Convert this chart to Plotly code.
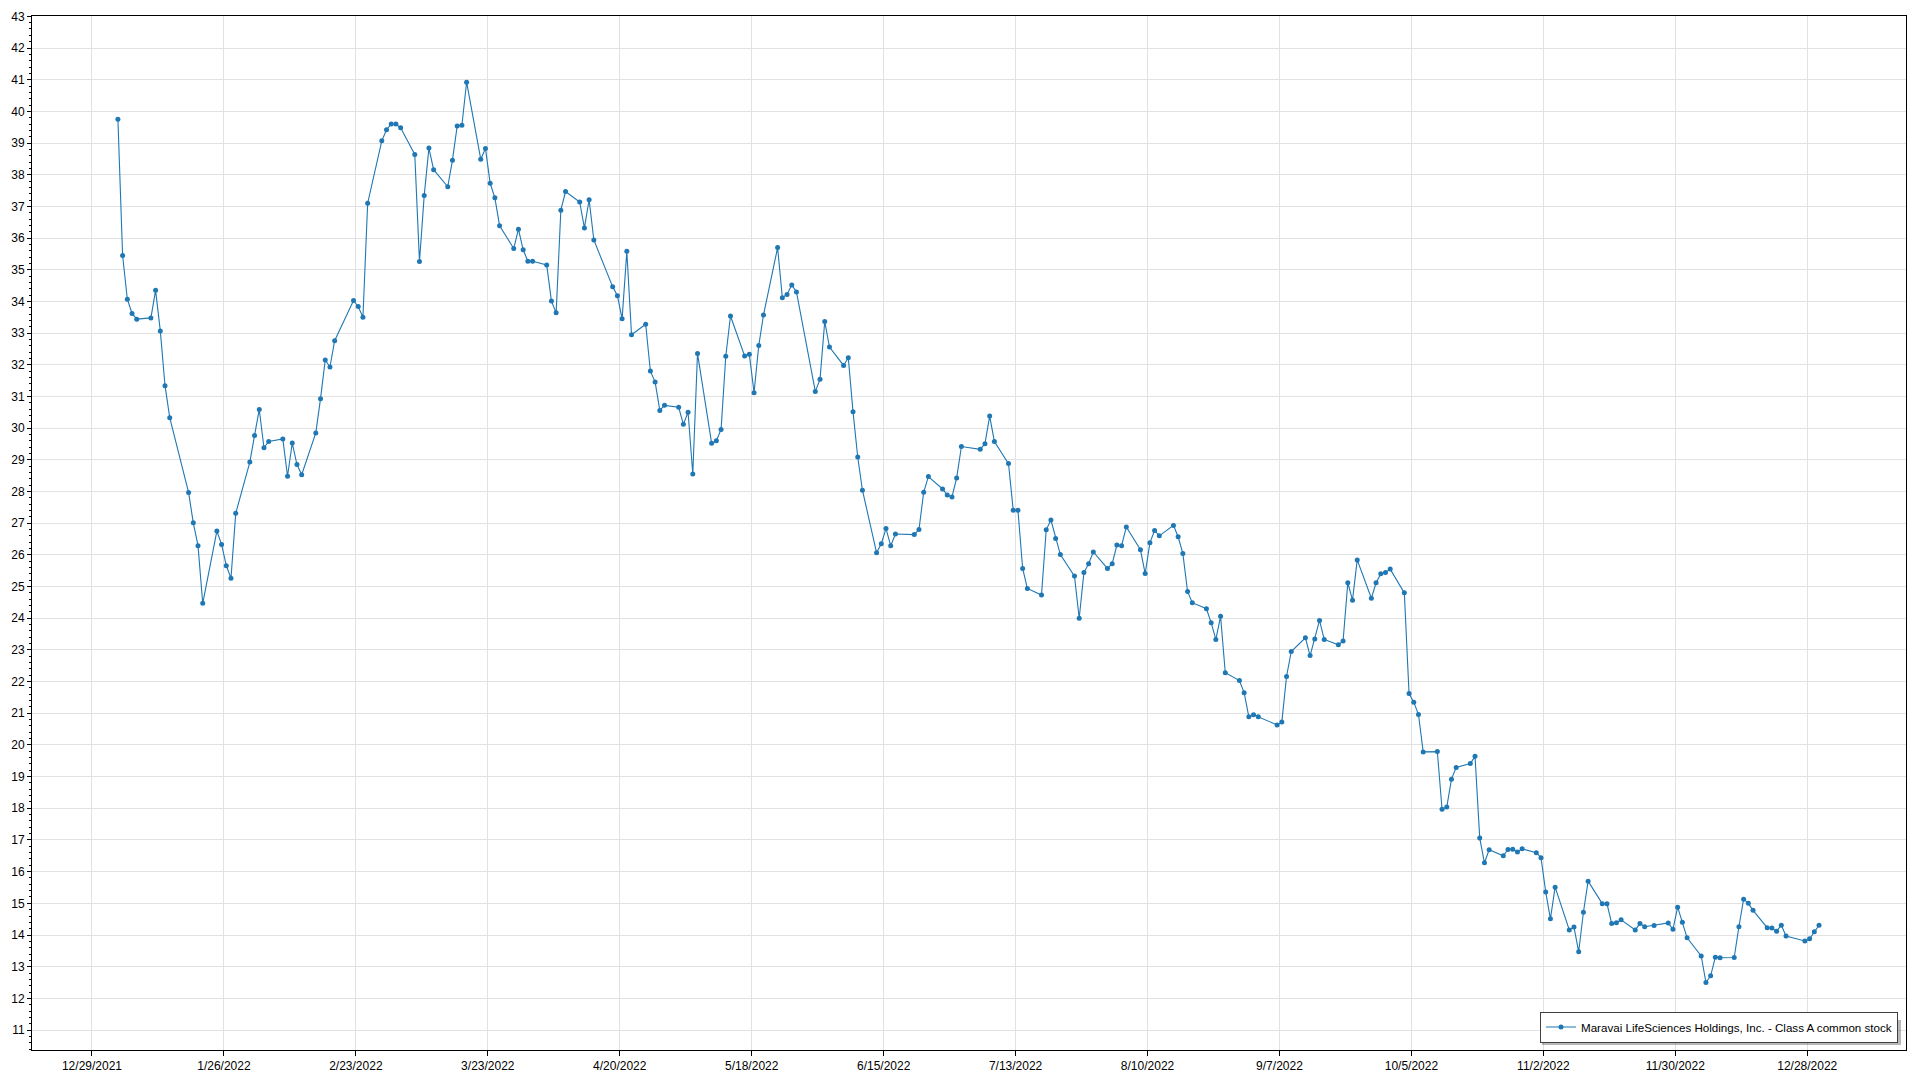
import pandas as pd
import plotly.graph_objects as go

# ---- data -------------------------------------------------------------
series_name = "Maravai LifeSciences Holdings, Inc. - Class A common stock"

market_holidays = ["2022-01-17", "2022-02-21", "2022-04-15", "2022-05-30", "2022-06-20",
                   "2022-07-04", "2022-09-05", "2022-11-24", "2022-12-26"]
trade_dates = [d for d in pd.bdate_range("2022-01-03", "2022-12-30")
               if d.strftime("%Y-%m-%d") not in market_holidays]

jan = [39.75, 35.45, 34.07, 33.62, 33.44, 33.48, 34.35, 33.07, 31.34, 30.33,
       27.97, 27.01, 26.29, 24.47, 26.75, 26.33, 25.66, 25.26, 27.31, 28.93]
feb = [29.77, 30.59, 29.38, 29.58, 29.66, 28.48, 29.53, 28.85, 28.53, 29.85,
       30.93, 32.15, 31.93, 32.76, 34.03, 33.84, 33.50, 37.10, 39.07]
mar = [39.42, 39.60, 39.60, 39.48, 38.64, 35.26, 37.34, 38.84, 38.16, 37.62,
       38.46, 39.54, 39.56, 40.92, 38.49, 38.83, 37.73, 37.27, 36.39, 35.67,
       36.28, 35.63, 35.27]
apr = [35.27, 35.15, 34.01, 33.64, 36.88, 37.47, 37.14, 36.32, 37.21, 35.94,
       34.46, 34.18, 33.45, 35.58, 32.95, 33.28, 31.80, 31.46, 30.56, 30.72]
may = [30.66, 30.12, 30.50, 28.55, 32.36, 29.52, 29.60, 29.96, 32.27, 33.54,
       32.28, 32.33, 31.12, 32.61, 33.57, 35.70, 34.12, 34.22, 34.52, 34.30, 31.16]
jun = [31.54, 33.37, 32.56, 31.98, 32.22, 30.52, 29.09, 28.04, 26.07, 26.35,
       26.83, 26.29, 26.66, 26.64, 26.80, 27.98, 28.47, 28.08, 27.89, 27.83, 28.43]
jul = [29.42, 29.33, 29.51, 30.38, 29.58, 28.88, 27.41, 27.41, 25.57, 24.94,
       24.73, 26.79, 27.10, 26.52, 26.01, 25.33, 24.00, 25.44, 25.72, 26.09]
aug = [25.57, 25.72, 26.31, 26.29, 26.88, 26.16, 25.41, 26.38, 26.77, 26.60,
       26.93, 26.57, 26.04, 24.84, 24.49, 24.30, 23.86, 23.33, 24.06, 22.28,
       22.03, 21.65, 20.89]
sep = [20.95, 20.89, 20.63, 20.72, 22.16, 22.95, 23.38, 22.82, 23.34, 23.93,
       23.33, 23.16, 23.28, 25.12, 24.57, 25.84, 24.63, 25.12, 25.40, 25.44, 25.55]
oct_ = [24.80, 21.62, 21.35, 20.96, 19.78, 19.79, 17.97, 18.04, 18.92, 19.29,
        19.41, 19.64, 17.06, 16.28, 16.69, 16.50, 16.70, 16.71, 16.62, 16.72, 16.60]
nov = [16.44, 15.36, 14.51, 15.51, 14.16, 14.25, 13.47, 14.72, 15.70, 14.99,
       14.99, 14.36, 14.39, 14.48, 14.16, 14.36, 14.26, 14.30, 14.38, 14.18, 14.88]
dec = [14.40, 13.91, 13.34, 12.50, 12.71, 13.30, 13.28, 13.29, 14.26, 15.13,
       15.00, 14.78, 14.23, 14.22, 14.12, 14.31, 13.97, 13.81, 13.88, 14.10, 14.31]

prices = jan + feb + mar + apr + may + jun + jul + aug + sep + oct_ + nov + dec
assert len(prices) == len(trade_dates)

# ---- figure -----------------------------------------------------------
FONT = "Liberation Sans, Arial, sans-serif"
BLUE = "rgb(31,119,180)"
GRID = "#e2e2e2"

W, H = 1920, 1080
ML, MR, MT, MB = 32, 14, 16, 30
PW, PH = W - ML - MR, H - MT - MB


def px_x(p):
    return (p - ML) / PW


def px_y(p):
    return (H - MB - p) / PH


x_vals = [d + pd.Timedelta(hours=12) for d in trade_dates]

fig = go.Figure()
fig.add_trace(go.Scatter(
    x=x_vals, y=prices, name=series_name, mode="lines+markers",
    line=dict(color=BLUE, width=1.1),
    marker=dict(color=BLUE, size=5, symbol="circle"),
    showlegend=True,
))

# legend drop shadow
fig.add_shape(type="rect", xref="paper", yref="paper",
              x0=px_x(1542), x1=px_x(1901), y0=px_y(1045), y1=px_y(1020),
              fillcolor="rgba(0,0,0,0.28)", line=dict(width=0), layer="above")

fig.update_layout(
    template="none",
    width=W, height=H, autosize=False,
    margin=dict(l=ML, r=MR, t=MT, b=MB, pad=0),
    paper_bgcolor="white", plot_bgcolor="white",
    font=dict(family=FONT, size=12, color="black"),
    showlegend=True,
    legend=dict(
        x=px_x(1898), y=px_y(1042.5), xanchor="right", yanchor="bottom",
        bgcolor="white", bordercolor="#404040", borderwidth=1,
        font=dict(family=FONT, size=11.6, color="black"),
    ),
    xaxis=dict(
        type="date", automargin=False,
        range=["2021-12-16 06:30", "2023-01-17 23:00"],
        tick0="2021-12-29", dtick=28 * 86400000,
        tickformat="%-m/%-d/%Y",
        showgrid=True, gridcolor=GRID, gridwidth=1,
        showline=True, linecolor="black", linewidth=1, mirror=True,
        ticks="outside", ticklen=5, tickcolor="black",
        zeroline=False,
        tickfont=dict(family=FONT, size=12, color="black"),
    ),
    yaxis=dict(
        automargin=False,
        range=[10.37, 43.01],
        tick0=11, dtick=1,
        showgrid=True, gridcolor=GRID, gridwidth=1,
        showline=True, linecolor="black", linewidth=1, mirror=True,
        ticks="outside", ticklen=4, tickcolor="black",
        minor=dict(dtick=0.2, ticks="outside", ticklen=2, tickcolor="black", showgrid=False),
        zeroline=False,
        tickfont=dict(family=FONT, size=12, color="black"),
    ),
)

fig.write_html("out.html", config={"displayModeBar": False},
               post_script="document.body.style.margin='0';document.body.style.overflow='hidden';")
